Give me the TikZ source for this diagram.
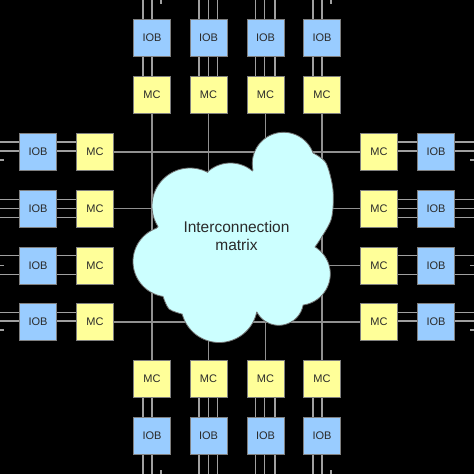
\documentclass[tikz,border=0pt]{standalone}
\usepackage{fontspec}
\setmainfont{Liberation Sans}
\definecolor{iobfill}{HTML}{99CCFF}
\definecolor{mcfill}{HTML}{FFFF99}
\definecolor{cloudfill}{HTML}{CCFFFF}
\definecolor{boxline}{HTML}{808080}
\definecolor{wirecol}{HTML}{A0A0A0}
\definecolor{gridcol}{HTML}{909090}
\definecolor{cloudline}{HTML}{707070}
\definecolor{txt}{HTML}{2A2A2A}
\begin{document}
\begin{tikzpicture}[x=1pt,y=-1pt,
  box/.style={draw=boxline, line width=0.8pt, minimum width=37pt, minimum height=37pt, inner sep=0pt, font=\fontsize{11}{13}\selectfont, text=txt},
  iob/.style={box, fill=iobfill},
  mc/.style={box, fill=mcfill},
  wire/.style={draw=wirecol, line width=1.6pt},
  gridline/.style={draw=gridcol, line width=1.6pt},
  cloudstyle/.style={fill=cloudfill, draw=cloudline, line width=0.8pt, line join=round}]
\fill[black] (0,0) rectangle (474,474);
\useasboundingbox (0,0) rectangle (474,474);
% boxes
\foreach \i/\c in {1/152,2/208.5,3/265.5,4/322}{
  \node[iob] (iT\i) at (\c,38) {IOB};
  \node[mc]  (mT\i) at (\c,95) {MC};
  \node[mc]  (mB\i) at (\c,379) {MC};
  \node[iob] (iB\i) at (\c,436) {IOB};
  \node[iob] (iL\i) at (38,\c) {IOB};
  \node[mc]  (mL\i) at (95,\c) {MC};
  \node[mc]  (mR\i) at (379,\c) {MC};
  \node[iob] (iR\i) at (436,\c) {IOB};
  \coordinate (eT\i) at (\c,0);
  \coordinate (eB\i) at (\c,474);
  \coordinate (eL\i) at (0,\c);
  \coordinate (eR\i) at (474,\c);
}
% grid lines
\foreach \i in {1,2,3,4}{
  \draw[gridline] (mT\i.south) -- (mB\i.north);
}
\foreach \i in {1,2,4}{
  \draw[gridline] (mL\i.east) -- (mR\i.west);
}
\coordinate (g3) at (200,265.5);
\draw[gridline] (g3) -- (mR3.west);
% cloud
\filldraw[cloudstyle]
  plot[domain=147:298, samples=40] ({190+38*cos(\x)},{206+38*sin(\x)})
  -- plot[domain=228:310, samples=25] ({230.5+34*cos(\x)},{197+34*sin(\x)})
  -- plot[domain=168:340, samples=45] ({283.6+31.3*cos(\x)},{163.6+31.3*sin(\x)})
  -- plot[smooth] coordinates {(313,153) (326,163) (333,190) (331,220) (315,247)}
  -- plot[domain=-59:82.5, samples=35] ({298.9+31.4*cos(\x)},{273.9+31.4*sin(\x)})
  -- plot[domain=10.3:152.4, samples=35] ({278.8+24.7*cos(\x)},{300.6+24.7*sin(\x)})
  -- plot[domain=11.7:165, samples=40] ({219.2+38.3*cos(\x)},{304.2+38.3*sin(\x)})
  -- plot[smooth] coordinates {(182.2,314.1) (169,309) (163,296.4)}
  -- plot[domain=98.7:250, samples=40] ({168.3+35.3*cos(\x)},{261.5+35.3*sin(\x)})
  -- cycle;
\node[text=txt, font=\fontsize{15.5}{18.7}\selectfont, align=center] (ctext) at (236.5,236) {Interconnection\\matrix};
% top and bottom wires
\foreach \i/\offs in {1/{-9,0}, 2/{-9.5,0,9}, 3/{-10,-1,9.5}, 4/{-9,0}}{
  \foreach \o in \offs {
    \draw[wire] ([xshift=\o pt]iT\i.north) -- ([xshift=\o pt]eT\i);
    \draw[wire] ([xshift=\o pt]iT\i.south) -- ([xshift=\o pt]mT\i.north);
    \draw[wire] ([xshift=\o pt]mB\i.south) -- ([xshift=\o pt]iB\i.north);
    \draw[wire] ([xshift=\o pt]iB\i.south) -- ([xshift=\o pt]eB\i);
  }
}
% left and right wires (offsets in image y, downward positive)
\foreach \i/\offs in {1/{-10,-1}, 2/{-9,0,9}, 3/{-10,9}, 4/{-9.5,-1}}{
  \foreach \o in \offs {
    \draw[wire] ([yshift=-\o pt]iL\i.west) -- ([yshift=-\o pt]eL\i);
    \draw[wire] ([yshift=-\o pt]iL\i.east) -- ([yshift=-\o pt]mL\i.west);
    \draw[wire] ([yshift=-\o pt]mR\i.east) -- ([yshift=-\o pt]iR\i.west);
    \draw[wire] ([yshift=-\o pt]iR\i.east) -- ([yshift=-\o pt]eR\i);
  }
}
% short stubs at the edges
\foreach \i in {1,4}{
  \draw[wire] ([xshift=9pt]eT\i) -- ++(0,4);
  \draw[wire] ([xshift=9pt]eB\i) -- ++(0,-4);
  \draw[wire] ([yshift=-8pt]eL\i) -- ++(4,0);
  \draw[wire] ([yshift=-8pt]eR\i) -- ++(-4,0);
}
\draw[wire] (eL3) -- ++(4,0);
\draw[wire] (eR3) -- ++(-4,0);
\end{tikzpicture}
\end{document}
